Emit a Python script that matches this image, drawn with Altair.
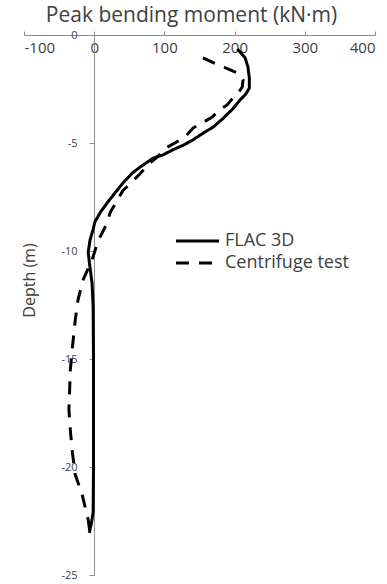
import altair as alt
import pandas as pd

# FLAC 3D simulation: peak bending moment (kN·m) against depth (m)
flac_depth = [-0.65, -1.06, -1.48, -2.0, -2.45, -2.73, -3.0, -3.4, -3.85, -4.25, -4.55,
              -4.85, -5.1, -5.3, -5.55, -5.7, -5.9, -6.1, -6.4, -6.85, -7.3, -7.75,
              -8.2, -8.65, -9.0, -9.5, -10.05, -10.5, -11.5, -12.6, -15.0, -18.0,
              -20.0, -22.1, -22.6, -23.05]
flac_moment = [204, 215, 219, 221, 221, 216, 208, 198, 184, 170, 155,
               141, 127, 113, 98, 84, 75, 66, 54, 41, 30, 19,
               9, 1, -1.5, -6, -8.5, -7, -3, -1.5, -1, -1,
               -1, -1.5, -4, -7]

# Centrifuge test measurements
cent_depth = [-1.06, -1.3, -1.53, -1.76, -2.08, -2.4, -2.7, -2.9, -3.25, -3.45, -3.8,
              -4.05, -4.3, -4.7, -5.0, -5.25, -5.65, -6.0, -6.4, -6.8, -7.2, -7.65,
              -8.2, -8.7, -9.0, -9.5, -10.4, -11.35, -12.25, -13.2, -14.45, -15.5,
              -17.35, -18.3, -19.35, -20.35, -21.3, -22.45, -23.05]
cent_moment = [155, 171, 188, 204, 212, 211, 205, 198, 189, 179, 168,
               155, 141, 130, 115, 101, 90, 77, 66, 54, 41, 33,
               23, 18, 14, 6, -3, -16, -23, -27, -31, -34,
               -36, -34, -31, -27, -17, -8.5, -6]

series_names = ["FLAC 3D", "Centrifuge test"]
x_ticks = [-100, 0, 100, 200, 300, 400]
y_ticks = [0, -5, -10, -15, -20, -25]

rows = []
for name, depths, moments in [(series_names[0], flac_depth, flac_moment),
                              (series_names[1], cent_depth, cent_moment)]:
    for i, (d, m) in enumerate(zip(depths, moments)):
        rows.append({"series": name, "idx": i, "depth": d, "moment": m})
df = pd.DataFrame(rows)

FONT = "Open Sans"
TEXT = "#404040"
AXIS = "#8c8c8c"

chart = alt.Chart(df).mark_line(color="black", strokeWidth=3).encode(
    x=alt.X(
        "moment:Q",
        scale=alt.Scale(domain=[-100, 400], nice=False, zero=False),
        axis=alt.Axis(
            orient="top", values=x_ticks, grid=False,
            title="Peak bending moment (kN·m)",
            domainColor=AXIS, tickColor=AXIS, tickSize=4,
            labelFont=FONT, labelFontSize=15, labelColor=TEXT,
            labelBaseline="top", labelPadding=-9,
            labelExpr="'' + datum.value",
            titleFont=FONT, titleFontSize=21, titleFontWeight="normal",
            titleColor=TEXT, titleX=167, titleY=-14,
            titleBaseline="alphabetic", titleAlign="center",
        ),
    ),
    y=alt.Y(
        "depth:Q",
        scale=alt.Scale(domain=[-25, 0], nice=False, zero=False),
        axis=alt.Axis(
            orient="left", offset=-70, values=y_ticks, grid=False,
            title="Depth (m)",
            domainColor=AXIS, tickColor=AXIS, tickSize=5,
            labelFont=FONT, labelFontSize=11, labelColor=TEXT,
            labelPadding=12, labelExpr="'' + datum.value",
            titleFont=FONT, titleFontSize=16, titleFontWeight="normal",
            titleColor=TEXT, titleX=-65, titleY=245, titleAngle=270,
            titleAlign="center", titleBaseline="middle",
        ),
    ),
    strokeDash=alt.StrokeDash(
        "series:N",
        scale=alt.Scale(domain=series_names, range=[[1, 0], [13, 10]]),
        legend=alt.Legend(
            title=None, orient="none", legendX=150, legendY=196,
            symbolType="stroke", symbolSize=1850, symbolStrokeWidth=3,
            symbolStrokeColor="black",
            labelFont=FONT, labelFontSize=18, labelColor=TEXT,
            labelOffset=4, clipHeight=20, rowPadding=2,
        ),
    ),
    order="idx:Q",
).properties(
    width=351,
    height=540,
    autosize=alt.AutoSizeParams(type="none"),
    padding={"left": 24, "top": 35, "right": 12, "bottom": 9},
).configure_view(stroke=None)

chart.save("out.html", embed_options={"renderer": "svg", "actions": False})
